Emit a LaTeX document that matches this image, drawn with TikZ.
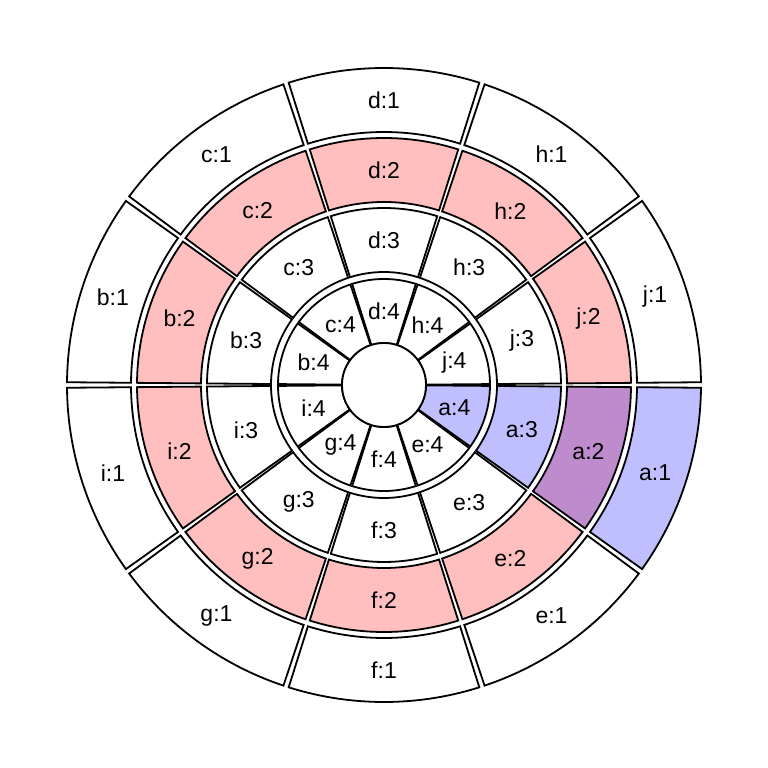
\documentclass[tikz,border=0pt]{standalone}
\usepackage{fontspec}
\setmainfont{Liberation Sans}
\definecolor{sectorPink}{RGB}{255, 191, 191}
\definecolor{sectorBlue}{RGB}{191, 191, 255}
\definecolor{sectorPurple}{RGB}{190, 140, 205}
\begin{document}
\begin{tikzpicture}[
  x=1pt,y=1pt,
  sector/.style={
    draw,
    line width=1.8pt,
    line join=miter
  },
  ring1/.style={sector,fill=white},
  ring2/.style={sector,fill=sectorPink},
  ring3/.style={sector,fill=white},
  ring4/.style={sector,fill=white},
  tag/.style={font=\fontsize{23}{27}\selectfont,inner sep=0pt}
]
  \useasboundingbox (-384,-383) rectangle (384,385);
  % nine plain wedges per ring
  \foreach \l/\t in {j/0,h/36,d/72,c/108,b/144,i/180,g/216,f/252,e/288}{
    \foreach \k/\ri/\ro in {1/253/317,2/183/247,3/113/177,4/42/106}{
      \draw[ring\k] (\t+0.5:\ri) arc[start angle=\t+0.5,end angle=\t+35.5,radius=\ri]
        -- (\t+35.5:\ro) arc[start angle=\t+35.5,end angle=\t+0.5,radius=\ro] -- cycle;
      \node[tag] (\l\k) at (\t+18:{(\ri+\ro)/2}) {\l:\k};
    }
  }
  % the highlighted wedges
  \foreach \k/\ri/\ro/\col in {1/253/317/sectorBlue,2/183/247/sectorPurple,3/113/177/sectorBlue,4/42/106/sectorBlue}{
    \draw[sector,fill=\col] (324.5:\ri) arc[start angle=324.5,end angle=359.5,radius=\ri]
      -- (359.5:\ro) arc[start angle=359.5,end angle=324.5,radius=\ro] -- cycle;
    \node[tag] (a\k) at (342:{(\ri+\ro)/2}) {a:\k};
  }
  \node[circle,draw,line width=1.8pt,fill=white,minimum size=84pt,inner sep=0pt] (hub) at (0,0) {};
\end{tikzpicture}
\end{document}
